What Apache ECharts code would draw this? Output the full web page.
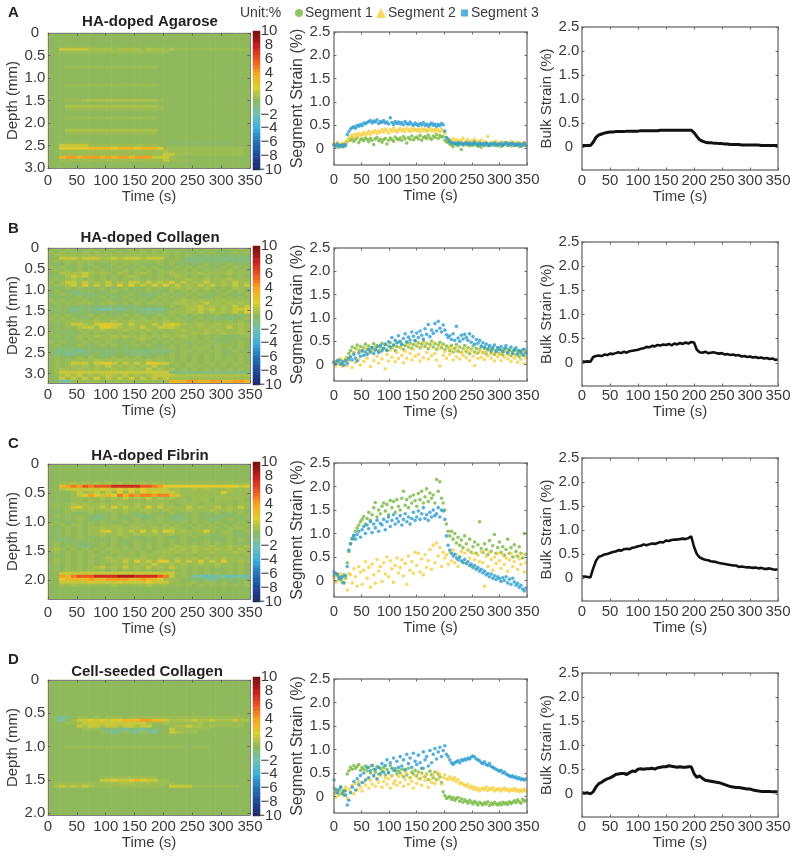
<!DOCTYPE html>
<html><head><meta charset="utf-8">
<style>html,body{margin:0;padding:0;background:#fff}#c{width:800px;height:857px;filter:blur(0.45px)}</style>
<script src="https://cdn.jsdelivr.net/npm/echarts@6/dist/echarts.min.js"></script>
</head><body><div id="c"></div>
<script>
// ---------- data ----------
const panelLetters = ['A','B','C','D'];
const panelTitles = ['HA-doped Agarose','HA-doped Collagen','HA-doped Fibrin','Cell-seeded Collagen'];
const timeTicks = [0,50,100,150,200,250,300,350];
const strainTicks = [0,0.5,1,1.5,2,2.5];
const colorbarTicksOuter = [-10,-6,-2,2,6,10];
const colorbarTicksInner = [-8,-4,0,4,8];
const depthTicks = [[0,0.5,1,1.5,2,2.5,3],[0,0.5,1,1.5,2,2.5,3],[0,0.5,1,1.5,2],[0,0.5,1,1.5,2]];
const depthMax = [3,3.23,2.33,2.03];
const colorbarValues = [-10,-9.5,-9,-8.5,-8,-7.5,-7,-6.5,-6,-5.5,-5,-4.5,-4,-3.5,-3,-2.5,-2,-1.5,-1,-0.5,0,0.5,1,1.5,2,2.5,3,3.5,4,4.5,5,5.5,6,6.5,7,7.5,8,8.5,9,9.5,10];
const heatLevels = {'.':0,',':0.35,'-':-0.35,'_':-0.8,'~':-1.6,'^':-2.5,'1':0.7,'2':1.4,'3':2.3,'4':3.2,'5':4.2,'6':5,'7':6,'8':7.5,'9':8.5};

// Strain maps: one string per depth row, one character per 10 s column
const heatA = ['','','','','',
'..222221111,1111,111,1,,,,,,,,,,,,,',
'..,,,,,,,,,,,,,,,,,,,','','','','',
'...,,,,,,,,,,,,,,,,','','','','','',
'...,,,,,,,,,,,,,,,,','','','','',
'...,,,1111111111111,','',
'...1111111111111111,',
'...,,,,,,,,,,,,,,,,,','','',
'...,,,,,,,,,,,,,,,,','','','',
'...1111111111111111',
'...,,,,,,,,,,,,,,,,','','',
'.....................-----------',
'..22222,,,,,,,,,,,,',
'..333334444344434443,,,,,,,,,,,,,,',
'..,,,,,,,,,,,,,,,,,,1,,,,,,,,,,,,,',
'..,,,,,,,,,,,,,,,,,,22,,,,,,,,,,,,',
'..4554555454554555222,',
'..,,,,,,,,,,,,,,,,,,2,,,','',''];

const heatB = [
'.,.,.-.,.,.,..,.,.,,.-.,.,.,.,.,.,.',
',.,.,.,.,.,.,.,.,.,.,.,.-.,.,.-.,.,',
'.,,,,,,,,,,,,,,,,,,,,.,.,-.-.-.-.-.',
'..222122211212221222,.,._____________',
'.,.,,,,,,,,,,,,,,,,,.,.-_-_-_-_-_-_',
'.-.,.,.,.-.,.,.,.-.,.,.-.-.,.-.,.-.',
',.,-.,.-,.-.,.-.,.,.-.,.,.,.-.,.,.,',
'.,.,.,.,.,.,.,.,.,.,.,.,.,.,.,.,.,.',
'..111121,1,.1,.,1,.,,1,,,,1,,,,1,,,',
'.-.1212,.,.,.,1,.,.,.,1,.,.,.,.,.,.',
'.,.,1,.,.,.,.,.,.,.,,.,,1,,1,,,1,,,',
',.,22,2,1,2,1,22,2,2,3,2,1,2,,1,2,1,',
'.,,12,3,2,2,3,3,2,3,3,2,1,2,2,1,2,2',
'.-.,.,.-.,.-.,.-.,.,.,1,1,,1,.,.1,.',
'.,.-_-.,.-.,.-.-.,.-.,.,.,.,.,.,.,.',
'-.,.-_-_-.-.-.,.-_-.,.-.,.,.-.,.-.,',
'.-.-.,.-.,.-.,.-.-.,.,.,.,.-.,.,.,.',
',.,.,.,.-.,.-.,.,.,.,.,1,,1,,,1,,,,',
'.,.,.,,,.,,,.,.,.,,,.,11,1,2,1,1,1,',
'.-.-.-_-_-_-_-_-.-.-.,.,112,1,1,2,2,',
'.-..~_.__~~_~_-__~_~-.,,11212,1,2232',
'.-.-_-.-_-.-.-.-_-_-.,,,1,2,1,1,2,3',
'.,.,.-.,.,.-.,.,.-.,.,.,.,.-.,.-.-.',
',.,.,.-.,.,.,.,.,.,.,.,.-.,.-_-_-.,',
'.,.,,,,,1,,1,,1,,1,,1,,,.,.,.,.,.,.',
'.-.,221,23322,2,1,2,2321,,1,,1,1,1,',
'.-.,.122,3321,1,2,,2221,,,1,1,,2,1,',
'.-.-.,.,,1,,,1,,,1,,.,,1,,,1,1,,,1,',
',.-.-.,.,.,.,.,.,.,.,.,,,1,1,,1,,1,',
'.,.-.,,,1,,1,1,,1,,,1,,1,,.,.,-.-.,',
'.-.-.,.,.,,,.,.,1,.,.,.,,,.,.-.-.-.',
',.,.-.,.,.,.-.,.,.,.,.,.-.,.,-.-.,.',
'.,.-.,.-.,.,.-.,.,.-.,.,.,.,.,.,.,.',
'.-_-_-.-.-.-.-.-.-.-.,.,.,,,.,.,.,.',
'.____~_-_-_-._-__-_-_-.,,.,.,,-.,.-.',
'.__~_-_-.-_-.-_-_-.-.,.,.,.,.,.-.,.',
'.,.-.,.,.-.,.,.,.-.,.,.,.,.,.,.,.,.',
'.,.,,,,,1,,,1,,,,1,,.,.,.,.,.,.,.,.',
'.,.,222,2332,2,2,3322,,.,,.,,.,.,,.',
'.,.,1,1,1,2,1,1,1,2,,.,.,.,.,.,.,.,',
'.,1,,1,,1,,1,,1,,2,1,1.,.,.,.,.,.,.',
'.,2222222222222222222______________',
'.,1212,1,121,2,1,1222211111111111111',
'.-2,2,2,3,2,2,3,2,2,2,,,,,,,,,,,,,,',
'.-~~,,,,,,,,,,,,,,,,,44455445544554'];

const heatC = [
'.','.','.','.','.','.',
'..,,1,1,1,1,1,1,1,1,,,,,,,,,,,,,,,,',
'..456576777888887765333333333333323',
'..1222222322323232222,1,,1,1,,,1,,,',
'....,2,12,2,3,3,3232221,,,,,,,3,,,,',
'....,235324364656656642,,,,,,,,,,,,',
'....,,,,,1,1,2,1,2,1,1,,.,,,.,,,,,.',
'.-.-,,.,.,.,,,.,.,,,,.,,.,,,.,,,.,.',
'.,.,1,1,,1,,1,,1,,,1,,.,,,.,,,.,.,,',
'.,.,23,1,2,3,2,1,3,2,1,,2,1,,2,1,2,',
'.-.,1,,1,,1,,1,,1,,,1,,,1,,,1,,1,,.',
'.-.,.-.,.-.,.,.-.,.-.,.-.,.-.,.-.,.',
'.,.-.,.-_-.,.-.-_-.,.-_-.,.-.-_.-.,',
'.-.,.,.-_-.,.-.,.-.,.-_-.,.-_-.,.-.',
'.,.-.,.,.,.-.,.,.,.,.,.,.,.,.,.-.,.',
',.,.,,.,.,,,,.,,,,,.,.,.,.,.,.,.,.,',
'.-.,.,.,,1,,1,,1,,1,,1,,.,,.,,.,,,.',
'.-.,.,.,,23,1,2,3,2,32,1,,,3,.,,-.,.',
'.-.,.,.,,1,,1,,1,,1,,1,,,.,,.-,,.-.',
'.-.-.,.-.,.,.,.-.,.,.-.,.,.-.-.,.-.',
'.-_-.-.,.-.,.-.,.-.,.,.,.-.,.-.,.,.',
'.,.-.-.-.,.,.-.,.,.,.,.,.,.,.,.,.-.',
'.,.,.-_-.,.,.,.,.,.,.,1,,1,,1,,1,,1',
',1,.,.,.,.,,.,.,.,.,,1,1,1,1,1,1,1,',
'.,.,.,.,.,.,,.,.,.,,1,1,,1,,1,,,1,,',
'.-.,.,.,,.,.,.,.,,,,,,.,,.,,.,,.,.,',
'.,.,.,.,.,1,,1,,1,,1,,1,,1,1,,1,,,.',
'.,.,.,.,.,,1,2,3,2,33,2,2,3,2,3,,1,',
'.,.,.,.,.,.,,1,,1,2,,1,1,,1,,1,,.,.',
'.-.,.,.,12,1,2,1,2,1,2,,.,.,.,.,.,.',
'.,.,.,.,.,.,.,.,.,.,.,.,.,.,.-.,.,.',
'..22222222222222222222,,.,.,.,.,.,.',
'..54677788889998888762.,.~~^~~~^~~^~',
'..344445445555445443,,,.-_-_~_-_-_-',
'..2222232222322223222,,.,,.,,.,.-.,',
'..,,1,,,,,,1,,,,,1,,,.,.,.,.,.,.,.,',
'.','.','.','.','.'];

const heatD = ['','','','','','','','','','','','',
'._~_.,,.,.,,,.,,,,,,,,,,,,,,,,,,,,',
'._~.,2232323344455442111121121112111',
'...,,1222222222221,,1,,,,,1,,,,,,,',
'.....2122122122122...,11211,1,,,,,',
'......,,,_-__~__~__-.2,,,,,,',
'.........,_~_,_~,_~..21,,,',
'','','','',
'...,,,,,,,,,,,,,,,,,,,,,-,,,',
'','','','','','','','','',
'.........,,,,,,,,,,',
'.........2232234322,,',
'.,,,,,,,,,,,111,,1,,,,',
'.1212121,,,,,,,,,,,,.2222,,,,,,,,',
'','','','','','','','','','',''];

// Segment strain, hundredths of a percent, one value every 3 s from 0 s
const segmentStep = 3;
const segA1 = [8,5,10,3,7,9,4,11,15,19, 18,22,16,20,24,13,19,21,17,23, 20,15,22,18,9,21,24,17,20,14, 19,22,10,18,23,20,16,25,21,19, 23,18,26,21,12,24,20,27,19,23, 25,21,28,18,24,26,22,29,23,20, 27,24,30,22,28,25,26,18,15,13, 10,8,4,11,9,6,10,-2,9,12, 8,10,6,12,7,9,11,5,8,3, 10,7,12,6,9,8,11,7,10,6, 9,5,8,10,12,7,9,6,11,8, 7,10,4,9,6,11,8];
const segA2 = [10,6,13,4,9,12,7,14,17,22, 26,29,24,31,27,33,28,30,35,29, 33,37,30,36,34,39,32,38,35,41, 36,42,38,33,41,37,44,39,35,40, 43,38,41,36,44,40,37,43,39,42, 38,41,36,43,39,42,37,40,44,38, 41,37,43,39,36,42,38,33,24,19, 20,17,21,16,19,14,18,15,22,13, 16,19,13,17,15,20,12,16,14,18, 10,15,12,26,11,14,9,13,16,10, 12,8,14,11,9,13,10,15,8,12, 10,14,7,12,9,13,8];
const segA3 = [9,6,10,5,8,4,9,7,30,36, 42,45,47,44,50,48,52,49,55,53, 56,58,60,55,59,57,62,54,58,56, 60,55,57,53,66,56,52,58,54,57, 53,56,51,58,54,52,57,53,50,55, 52,49,54,51,56,50,53,48,52,55, 50,53,48,52,49,54,51,38,24,20, 16,13,11,12,9,13,10,12,8,11, 13,10,12,9,11,14,10,8,12,9, 11,8,12,10,7,11,9,12,8,10, 9,12,7,10,13,8,11,9,12,7, 10,8,11,6,9,12,7];
const segB1 = [6,2,9,4,11,1,7,10,15,24, 30,38,26,35,42,31,39,28,36,44, 33,40,29,37,45,34,41,30,38,46, 35,43,31,40,47,36,42,30,39,48, 37,44,33,41,49,38,46,35,43,52, 40,47,36,44,51,39,46,34,43,50, 38,45,33,42,48,36,44,32,40,37, 30,41,27,35,43,29,38,26,34,41, 28,36,24,33,40,27,35,25,32,38, 26,34,23,31,37,25,33,22,30,36, 24,32,21,29,35,23,30,19,28,33, 21,29,17,26,32,19,27];
const segB2 = [4,-3,9,1,12,-4,6,14,-2,8, 16,-6,25,5,33,11,-1,28,7,35, 14,24,-4,30,9,38,18,3,27,12, 34,-9,22,8,31,16,40,6,26,13, 36,20,4,29,14,42,24,10,33,18, 44,22,8,37,15,46,26,12,39,19, 48,24,10,35,-3,41,20,28,14,36, 22,34,10,29,17,38,12,26,20,33, 15,27,9,31,18,-2,24,13,30,16, 25,11,28,19,33,14,24,8,27,17, 22,9,26,16,29,12,21,7,24,14, 19,5,23,11,26,2,15];
const segB3 = [5,2,8,10,1,6,-1,9,3,12, 17,10,22,14,8,25,18,30,20,27, 22,33,27,36,24,31,38,26,41,30, 35,44,31,49,38,58,42,52,47,62, 50,43,56,66,48,59,53,70,61,51, 68,58,72,63,55,77,65,86,60,74, 67,88,72,93,78,70,85,74,64,58, 62,54,66,52,82,57,50,63,55,65, 58,52,66,48,60,44,54,46,52,40, 47,38,44,34,41,30,37,42,28,36, 32,39,28,35,41,26,33,38,24,31, 36,23,30,27,21,33,25];
const segC1 = [10,-2,14,3,8,-4,12,5,38,62, 78,88,95,105,112,118,125,130,136,120, 132,145,128,140,155,166,135,150,142,158, 165,148,162,140,170,155,168,145,172,158, 150,175,190,160,172,155,178,165,182,170, 158,185,172,190,165,178,195,168,186,175, 182,165,215,190,210,175,165,150,120,105, 95,105,88,100,80,92,75,86,70,95, 78,65,88,60,72,82,58,76,125,68, 60,78,66,55,85,62,74,98,58,70, 82,60,72,54,66,88,58,70,50,76, 62,52,72,58,48,100,56];
const segC2 = [6,-3,10,1,14,4,-5,8,-20,15, 12,-5,25,8,-12,30,18,-8,22,40, 5,28,-14,35,12,-6,45,20,30,-2, 38,14,50,8,42,25,-4,32,48,16, 28,44,10,36,-8,52,22,40,15,60, 32,58,18,46,12,55,28,42,66,24, 75,38,80,52,70,30,60,48,55,35, 60,42,65,38,55,30,50,62,40,58, 36,66,48,30,58,44,25,54,40,62, 38,-12,52,30,60,45,22,50,36,58, 42,26,55,34,48,20,44,58,30,40, 52,24,46,34,56,18,38];
const segC3 = [18,15,12,6,3,8,-5,10,30,65, 78,90,96,88,98,105,92,108,115,100, 118,110,125,102,120,112,128,105,122,118, 130,108,125,135,115,128,140,120,132,125, 138,118,130,142,125,135,120,132,145,128, 135,148,130,142,155,132,140,128,145,135, 150,138,142,155,135,150,148,130,95,75, 65,58,52,56,48,44,50,42,38,45, 36,40,32,35,28,32,24,28,20,24, 16,20,12,15,8,14,5,10,2,8, 4,-2,6,0,8,-5,3,-8,5,-3, -10,-6,-14,-10,-18,-22,-16];
const segD1 = [18,8,14,5,20,10,3,12,48,55, 62,58,66,60,64,68,56,62,58,65, 55,62,50,66,58,52,64,48,60,54, 62,46,58,52,66,44,56,60,48,54, 50,58,42,55,46,60,40,52,48,56, 44,52,38,50,60,42,48,36,54,46, 40,52,36,48,42,30,10,2,-4,-2, 0,-6,-2,-8,-4,-2,-10,-5,-12,-7, -10,-14,-8,-12,-16,-10,-14,-18,-12,-15, -18,-13,-16,-11,-19,-14,-17,-12,-16,-18, -14,-18,-12,-16,-13,-17,-11,-15,-12,-9, -13,-7,-11,-14,-6,-10,-8];
const segD2 = [6,-2,12,2,8,14,4,20,-4,16, 10,24,6,28,14,32,20,12,30,24, 38,18,34,26,42,22,36,30,44,20, 32,40,26,38,18,44,28,34,24,42, 30,46,22,36,50,26,40,32,18,44, 28,38,50,24,42,34,46,20,36,30, 44,28,52,36,48,26,40,46,38,36, 42,38,34,40,32,36,28,30,26,24, 22,26,18,22,16,20,14,18,12,16, 18,14,20,13,17,15,19,12,16,14, 17,12,15,18,13,16,11,15,13,17, 12,15,10,14,11,16,12];
const segD3 = [35,15,8,14,20,6,12,3,-18,-8, 8,20,32,14,38,25,45,30,50,35, 62,40,55,66,45,58,38,62,48,70, 52,66,78,50,72,60,82,55,75,62, 85,65,78,58,90,70,82,62,92,75, 68,88,72,60,95,78,85,65,98,72, 90,102,80,95,105,85,98,108,90,85, 78,72,68,72,74,76,72,78,76,80, 78,82,80,84,86,84,80,78,76,72, 70,74,68,66,70,64,62,60,58,56, 54,56,50,52,48,46,44,42,44,40, 42,38,40,36,38,35,37];

// Bulk strain, hundredths of a percent, one value every 5 s from 0 s
const bulkStep = 5;
const bulkA = [3,3,3,3,10,20,25,27,29,30, 31,31,32,32,32,32,33,33,33,33, 33,34,34,34,34,34,34,34,35,35, 35,35,35,35,35,35,35,35,35,35, 30,22,15,12,10,9,9,8,8,7, 7,6,6,5,5,5,5,4,4,4, 4,4,4,4,3,3,3,3,3,3,3];
const bulkB = [3,2,3,2,12,14,15,14,17,16, 19,18,20,22,20,23,21,24,25,26, 27,29,30,33,32,35,34,37,36,38, 37,39,36,40,38,41,39,42,40,43, 42,27,22,21,23,20,21,22,20,19, 20,17,18,16,17,15,16,13,14,12, 13,11,12,10,11,9,10,8,9,6,7];
const bulkC = [3,3,2,1,20,36,44,46,49,50, 52,54,55,58,57,60,61,60,63,64, 66,67,70,68,70,72,71,73,75,74, 78,77,79,80,80,81,82,81,83,87, 65,50,43,40,38,37,35,34,33,31, 30,29,28,27,26,26,23,24,23,22, 22,21,22,20,21,19,19,20,18,17,18];
const bulkD = [3,1,2,0,4,14,21,24,28,31, 33,36,40,41,42,42,40,44,47,46, 51,52,51,52,52,53,51,54,55,56, 56,58,57,56,55,56,55,55,56,56, 42,34,37,32,28,27,26,25,24,23, 21,19,17,15,14,13,13,12,11,10, 10,8,7,6,5,5,5,5,4,4,4];

const heatTables = [heatA,heatB,heatC,heatD];
const segTables = [[segA1,segA2,segA3],[segB1,segB2,segB3],[segC1,segC2,segC3],[segD1,segD2,segD3]];
const bulkTables = [bulkA,bulkB,bulkC,bulkD];
const segNames = ['Segment 1','Segment 2','Segment 3'];

// ---------- layout and style ----------
const FONT = '"Liberation Sans", Arial, sans-serif';
const INK = '#3a3a3a', FRAME = '#808080';
const segColors = ['#76b83f','#f6cf3f','#2b9cd2'];
const segSymbols = ['circle','triangle','rect'];
const jet = ['#1b2a6f','#1f4a9c','#2374b8','#3fb0dc','#72c0b0','#8fb95b','#dccf2e','#f5a623','#e8581f','#c4201f','#7a1210'];
const heatLayout = [
 {top:33,bottom:168,tick:5,name:18.5,barTop:31,barBottom:170,title:22,letter:13},
 {top:248,bottom:383,tick:4,name:19.5,barTop:246,barBottom:385,title:238,letter:229},
 {top:464,bottom:599,tick:6,name:19.5,barTop:462,barBottom:602,title:456,letter:444},
 {top:680,bottom:815,tick:4.5,name:19.5,barTop:677,barBottom:816,title:672,letter:660}];
const midLayout = [{top:32,bottom:165,tick:7,name:21.5},{top:248,bottom:381,tick:7,name:21.5},{top:463,bottom:597,tick:7,name:20.5},{top:679,bottom:813,tick:6.5,name:21.5}];
const bulkLayout = [{top:27,bottom:170,tick:3,name:16.5},{top:242,bottom:386,tick:2.5,name:16.5},{top:458,bottom:601,tick:3.5,name:16.5},{top:673,bottom:817,tick:2.5,name:16.5}];

const grids=[],xAxes=[],yAxes=[],series=[],titles=[],heatIdx=[];
function addGrid(left,right,top,bottom){grids.push({left,top,width:right-left,height:bottom-top});return grids.length-1;}
function frameAxis(gridIndex,position,o){
  const vals=o.ticks;
  return {type:'value',gridIndex,position,min:o.min,max:o.max,inverse:!!o.inverse,z:6,silent:true,
    axisLine:{show:true,onZero:false,lineStyle:{color:FRAME,width:o.frame||1.5}},
    axisTick:{show:true,inside:true,length:2.5,customValues:vals,lineStyle:{color:'#666',width:1}},
    splitLine:{show:false},
    axisLabel:o.label?{show:true,customValues:vals,margin:o.margin,align:o.align,showMinLabel:true,showMaxLabel:true,color:INK,fontSize:15,fontFamily:FONT,formatter:o.fmt}:{show:false},
    name:o.name||'',nameLocation:'middle',nameGap:o.gap,nameTextStyle:{color:INK,fontSize:o.nameSize||15,fontFamily:FONT}};
}
function frame(g,l,xOpt,yOpt){
  const xi=xAxes.length; xAxes.push(frameAxis(g,'bottom',{min:0,max:350,ticks:timeTicks,label:true,margin:l.tick,name:'Time (s)',gap:l.name,fmt:v=>String(v),frame:xOpt.frame}));
  xAxes.push(frameAxis(g,'top',{min:0,max:350,ticks:timeTicks,frame:xOpt.frame}));
  const yi=yAxes.length; yAxes.push(frameAxis(g,'left',Object.assign({label:true,align:'center',fmt:v=>String(v)},yOpt)));
  yAxes.push(frameAxis(g,'right',{min:yOpt.min,max:yOpt.max,inverse:yOpt.inverse,ticks:yOpt.ticks,frame:yOpt.frame}));
  return {xi,yi};
}
const strainFmt=v=>v===0?'0':v.toFixed(1);
function colorbarAxis(g,ticks){
  return {type:'value',gridIndex:g,position:'right',min:-10,max:10,z:6,silent:true,
    axisLine:{show:false,onZero:false},axisTick:{show:false},splitLine:{show:false},
    axisLabel:{show:true,customValues:ticks,showMinLabel:true,showMaxLabel:true,margin:9,align:'center',color:INK,fontSize:15,fontFamily:FONT,formatter:v=>String(v).replace('-','\u2212')}};
}
const COLS=35, ROWS=45;
const colNames=[];for(let c=0;c<COLS;c++)colNames.push(String(5+c*10));
const rowNames=[];for(let r=0;r<ROWS;r++)rowNames.push(String(r));

panelLetters.forEach((letter,p)=>{
  const L=heatLayout[p];
  titles.push({text:letter,left:8,top:L.letter-8,padding:0,textStyle:{fontSize:15,fontWeight:'bold',color:'#222',fontFamily:FONT}});
  titles.push({text:panelTitles[p],left:p===3?147:150,top:L.title-8,padding:0,textAlign:'center',textStyle:{fontSize:15,fontWeight:'bold',color:'#222',fontFamily:FONT}});

  // strain map
  let g=addGrid(48,250,L.top,L.bottom);
  const cx=xAxes.length; xAxes.push({type:'category',gridIndex:g,show:false,data:colNames});
  const cy=yAxes.length; yAxes.push({type:'category',gridIndex:g,show:false,inverse:true,data:rowNames});
  frame(g,L,{frame:1},{min:0,max:depthMax[p],inverse:true,ticks:depthTicks[p],margin:13,name:'Depth (mm)',gap:25.5,frame:1,fmt:v=>v===0?'0':v.toFixed(1)});
  const cells=[];
  for(let r=0;r<ROWS;r++){const s=heatTables[p][r]||'';
    for(let c=0;c<COLS;c++){const ch=s[c]||'.';cells.push([c,r,ch in heatLevels?heatLevels[ch]:0]);}}
  heatIdx.push(series.length);
  series.push({type:'heatmap',xAxisIndex:cx,yAxisIndex:cy,data:cells,silent:true,progressive:0,itemStyle:{borderWidth:0}});

  // colour bar
  g=addGrid(253,260,L.barTop,L.barBottom);
  const bx=xAxes.length; xAxes.push({type:'category',gridIndex:g,show:false,data:['c']});
  const by=yAxes.length; yAxes.push({type:'category',gridIndex:g,show:false,data:colorbarValues.map(String)});
  yAxes.push(colorbarAxis(g,colorbarTicksOuter));
  yAxes.push(colorbarAxis(g,colorbarTicksInner));
  heatIdx.push(series.length);
  series.push({type:'heatmap',xAxisIndex:bx,yAxisIndex:by,data:colorbarValues.map((v,i)=>[0,i,v]),silent:true,progressive:0,itemStyle:{borderWidth:0}});

  // segment strain
  const M=midLayout[p];
  g=addGrid(334,527,M.top,M.bottom);
  let ax=frame(g,M,{},{min:-0.35,max:2.5,ticks:strainTicks,margin:14,name:'Segment Strain (%)',gap:28.5,nameSize:16,fmt:strainFmt});
  segTables[p].forEach((arr,s)=>{
    series.push({type:'scatter',name:segNames[s],xAxisIndex:ax.xi,yAxisIndex:ax.yi,symbol:'circle',symbolSize:3.6,silent:true,
      itemStyle:{color:segColors[s]},data:arr.map((v,i)=>[i*segmentStep,v/100])});
  });

  // bulk strain
  const B=bulkLayout[p];
  g=addGrid(582,778,B.top,B.bottom);
  ax=frame(g,B,{},{min:-0.48,max:2.5,ticks:strainTicks,margin:13,name:'Bulk Strain (%)',gap:27.5,fmt:strainFmt});
  series.push({type:'line',name:'Bulk',xAxisIndex:ax.xi,yAxisIndex:ax.yi,symbol:'none',silent:true,
    lineStyle:{color:'#111',width:p===1||p===2?2.6:3},data:bulkTables[p].map((v,i)=>[i*bulkStep,v/100])});
});
titles.push({text:'Unit:%',left:240,top:6,padding:0,textStyle:{fontSize:14,fontWeight:'normal',color:INK,fontFamily:FONT}});

const legendLeft=[295,376,461];
const legends=segNames.map((n,i)=>({data:[{name:n,icon:segSymbols[i],itemStyle:{color:segColors[i]}}],left:legendLeft[i],top:6,padding:0,itemGap:0,
  itemWidth:[8,10,7][i],itemHeight:[8,10,7][i],selectedMode:false,textStyle:{color:INK,fontSize:14,fontFamily:FONT,padding:[0,0,0,[-3,-3,-2][i]]}}));

const chart=echarts.init(document.getElementById('c'),null,{renderer:'canvas',width:800,height:857});
chart.setOption({animation:false,backgroundColor:'#fff',title:titles,legend:legends,tooltip:{show:false},
  grid:grids,xAxis:xAxes,yAxis:yAxes,
  visualMap:{show:false,type:'continuous',min:-10,max:10,seriesIndex:heatIdx,inRange:{color:jet}},
  series});
</script></body></html>
